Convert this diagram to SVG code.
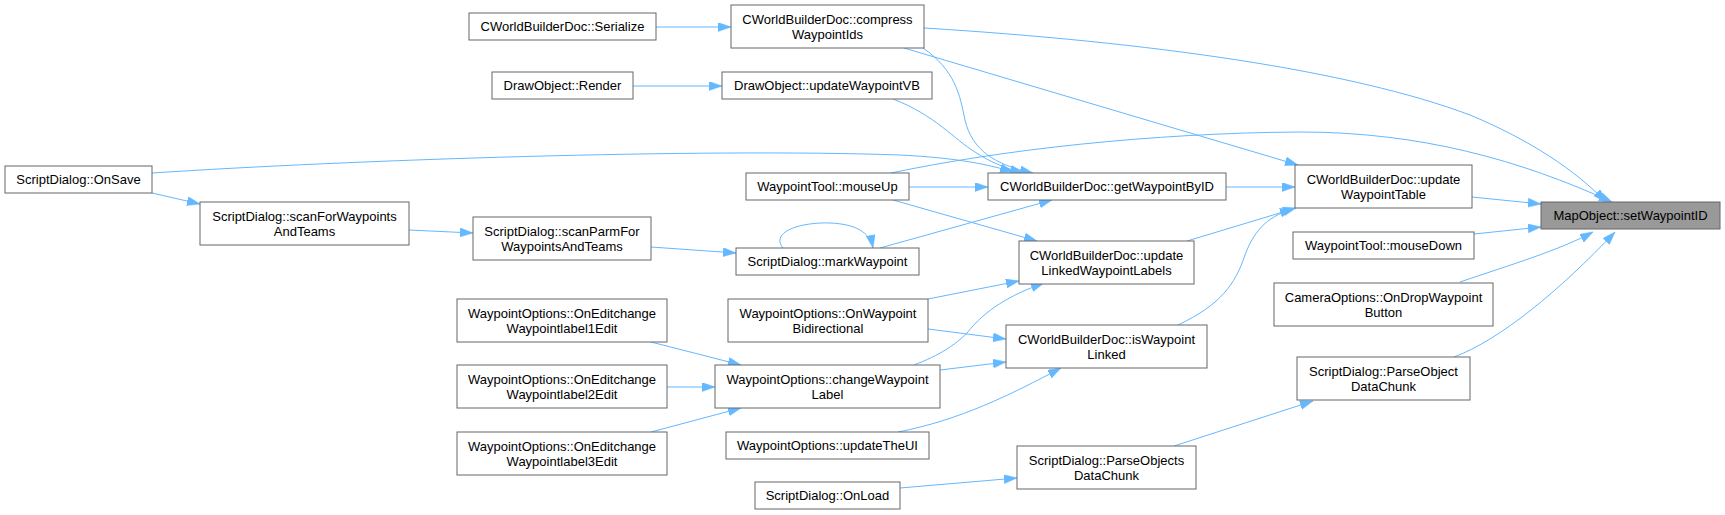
<svg xmlns="http://www.w3.org/2000/svg" width="1725" height="515" viewBox="0 0 1725 515">
<style>
.n rect{fill:#ffffff;stroke:#666666;stroke-width:1}
.n.main rect{fill:#999999}
.n text{font-family:"Liberation Sans",Arial,sans-serif;font-size:13px;fill:#000000;text-anchor:middle}
#edges path{fill:none;stroke:#63b8ff;stroke-width:1;marker-end:url(#arr)}
</style>
<defs>
<marker id="arr" markerUnits="userSpaceOnUse" markerWidth="14" markerHeight="10" refX="13" refY="4.5" orient="auto">
<path d="M0,0 L13,4.5 L0,9 z" fill="#63b8ff" stroke="#63b8ff" stroke-width="0.5"/>
</marker>
</defs>
<rect width="1725" height="515" fill="#ffffff"/>
<g id="edges">
<path d="M656,27 L731,27"/>
<path d="M633,86 L722,86"/>
<path d="M924,28 C1150,42 1350,70 1470,115 C1530,140 1575,170 1606,202"/>
<path d="M904,48 L1298,165"/>
<path d="M923,48 C955,70 960,95 965,120 C972,150 995,165 1033,173"/>
<path d="M893,99 C935,115 955,140 975,152 C990,162 1005,168 1023,173"/>
<path d="M152,173 C350,160 700,148 900,155 C960,158 990,165 1013,172"/>
<path d="M152,193 L200,204"/>
<path d="M409,230 L473,233"/>
<path d="M651,247 L736,253"/>
<path d="M783,248 C770,232 800,222 830,223 C855,224 870,232 873,248"/>
<path d="M880,248 L1052,200"/>
<path d="M909,187 L988,187"/>
<path d="M893,200 L1037,241"/>
<path d="M891,173 C1000,150 1150,133 1300,132 C1420,132 1520,160 1612,202"/>
<path d="M1226,187 L1295,187"/>
<path d="M1187,241 L1293,209"/>
<path d="M1178,325 C1220,305 1235,285 1245,255 C1255,228 1270,215 1296,208"/>
<path d="M1472,197 L1541,204"/>
<path d="M1474,234 L1541,227"/>
<path d="M1460,282 C1510,265 1560,250 1593,232"/>
<path d="M1454,357 C1500,340 1560,290 1615,232"/>
<path d="M1174,446 L1313,401"/>
<path d="M900,488 L1017,478"/>
<path d="M928,299 L1019,281"/>
<path d="M928,329 L1006,339"/>
<path d="M914,365 C940,355 955,345 967,333 C985,310 1010,295 1044,283"/>
<path d="M940,370 L1006,362"/>
<path d="M898,432 C960,420 1010,395 1061,368"/>
<path d="M651,342 L741,365"/>
<path d="M667,387 L715,387"/>
<path d="M651,432 L741,408"/>
</g>
<g id="n_serialize" class="n"><rect x="469" y="13" width="187" height="27"/><text x="562.5" y="31">CWorldBuilderDoc::Serialize</text></g>
<g id="n_compress" class="n"><rect x="731" y="5" width="193" height="43"/><text x="827.5" y="23.5">CWorldBuilderDoc::compress</text><text x="827.5" y="38.5">WaypointIds</text></g>
<g id="n_render" class="n"><rect x="492" y="72" width="141" height="27"/><text x="562.5" y="90">DrawObject::Render</text></g>
<g id="n_updatevb" class="n"><rect x="722" y="72" width="210" height="27"/><text x="827" y="90">DrawObject::updateWaypointVB</text></g>
<g id="n_onsave" class="n"><rect x="5" y="166" width="147" height="27"/><text x="78.5" y="184">ScriptDialog::OnSave</text></g>
<g id="n_scanfor" class="n"><rect x="200" y="202" width="209" height="43"/><text x="304.5" y="220.5">ScriptDialog::scanForWaypoints</text><text x="304.5" y="235.5">AndTeams</text></g>
<g id="n_scanparm" class="n"><rect x="473" y="217" width="178" height="43"/><text x="562" y="235.5">ScriptDialog::scanParmFor</text><text x="562" y="250.5">WaypointsAndTeams</text></g>
<g id="n_mouseup" class="n"><rect x="746" y="173" width="163" height="27"/><text x="827.5" y="191">WaypointTool::mouseUp</text></g>
<g id="n_getbyid" class="n"><rect x="988" y="173" width="238" height="27"/><text x="1107" y="191">CWorldBuilderDoc::getWaypointByID</text></g>
<g id="n_mark" class="n"><rect x="736" y="248" width="183" height="27"/><text x="827.5" y="266">ScriptDialog::markWaypoint</text></g>
<g id="n_updtable" class="n"><rect x="1295" y="165" width="177" height="43"/><text x="1383.5" y="183.5">CWorldBuilderDoc::update</text><text x="1383.5" y="198.5">WaypointTable</text></g>
<g id="n_main" class="n main"><rect x="1541" y="202" width="179" height="27"/><text x="1630.5" y="220">MapObject::setWaypointID</text></g>
<g id="n_mousedown" class="n"><rect x="1293" y="232" width="181" height="27"/><text x="1383.5" y="250">WaypointTool::mouseDown</text></g>
<g id="n_camera" class="n"><rect x="1274" y="283" width="219" height="43"/><text x="1383.5" y="301.5">CameraOptions::OnDropWaypoint</text><text x="1383.5" y="316.5">Button</text></g>
<g id="n_parseobj" class="n"><rect x="1297" y="357" width="173" height="43"/><text x="1383.5" y="375.5">ScriptDialog::ParseObject</text><text x="1383.5" y="390.5">DataChunk</text></g>
<g id="n_updlinked" class="n"><rect x="1019" y="241" width="175" height="43"/><text x="1106.5" y="259.5">CWorldBuilderDoc::update</text><text x="1106.5" y="274.5">LinkedWaypointLabels</text></g>
<g id="n_islinked" class="n"><rect x="1006" y="325" width="201" height="43"/><text x="1106.5" y="343.5">CWorldBuilderDoc::isWaypoint</text><text x="1106.5" y="358.5">Linked</text></g>
<g id="n_parseobjs" class="n"><rect x="1017" y="446" width="179" height="43"/><text x="1106.5" y="464.5">ScriptDialog::ParseObjects</text><text x="1106.5" y="479.5">DataChunk</text></g>
<g id="n_bidir" class="n"><rect x="728" y="299" width="200" height="43"/><text x="828" y="317.5">WaypointOptions::OnWaypoint</text><text x="828" y="332.5">Bidirectional</text></g>
<g id="n_changelabel" class="n"><rect x="715" y="365" width="225" height="43"/><text x="827.5" y="383.5">WaypointOptions::changeWaypoint</text><text x="827.5" y="398.5">Label</text></g>
<g id="n_updateui" class="n"><rect x="726" y="432" width="203" height="27"/><text x="827.5" y="450">WaypointOptions::updateTheUI</text></g>
<g id="n_onload" class="n"><rect x="755" y="482" width="145" height="27"/><text x="827.5" y="500">ScriptDialog::OnLoad</text></g>
<g id="n_edit1" class="n"><rect x="457" y="299" width="210" height="43"/><text x="562" y="317.5">WaypointOptions::OnEditchange</text><text x="562" y="332.5">Waypointlabel1Edit</text></g>
<g id="n_edit2" class="n"><rect x="457" y="365" width="210" height="43"/><text x="562" y="383.5">WaypointOptions::OnEditchange</text><text x="562" y="398.5">Waypointlabel2Edit</text></g>
<g id="n_edit3" class="n"><rect x="457" y="432" width="210" height="43"/><text x="562" y="450.5">WaypointOptions::OnEditchange</text><text x="562" y="465.5">Waypointlabel3Edit</text></g>
</svg>
